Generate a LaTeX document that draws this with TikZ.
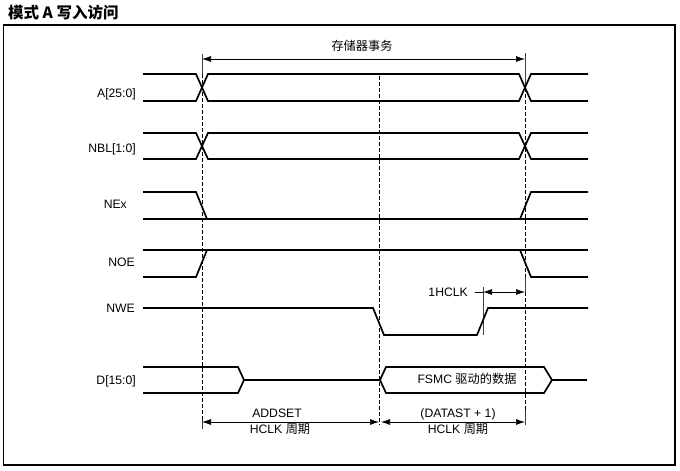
\documentclass[tikz,border=0pt]{standalone}
\usepackage{fontspec}
\setmainfont{Liberation Sans}
\newfontfamily\cjk{Noto Sans CJK SC}
\usetikzlibrary{arrows.meta}
\newcommand\sigfont{\fontsize{12.2}{14}\selectfont}
\newcommand\titlefont{\fontsize{15.5}{18}\selectfont\cjk\bfseries}
\begin{document}
\begin{tikzpicture}[x=1pt,y=-1pt,
  sig/.style={line width=1.7pt, line join=miter},
  guide/.style={line width=0.7pt, dash pattern=on 3.5pt off 2.5pt},
  tick/.style={line width=0.7pt, draw=black!75},
  dim/.style={line width=0.7pt, {Latex[length=9pt,width=6pt]}-{Latex[length=9pt,width=6pt]}},
  lbl/.style={anchor=base east, font=\sigfont, inner sep=0pt},
  txt/.style={anchor=base, font=\sigfont, inner sep=0pt}]
\useasboundingbox (0,0) rectangle (680,471);
\draw[line width=1.3pt] (3.5,25) rectangle (675,465);
\node[anchor=base west, font=\titlefont, inner sep=0pt] (title) at (8,18) {模式 A 写入访问};
\node[lbl] (la) at (136,97) {A[25:0]};
\node[lbl] (lnbl) at (136,152) {NBL[1:0]};
\node[lbl] (lne) at (127,208) {NEx};
\node[lbl] (lnoe) at (135,266) {NOE};
\node[lbl] (lnwe) at (135,312) {NWE};
\node[lbl] (ld) at (136,384) {D[15:0]};
\coordinate (ts) at (202,59);
\coordinate (te) at (525,59);
\coordinate (hs) at (483,292);
\coordinate (he) at (525,292);
\coordinate (hl) at (475,292);
\coordinate (as) at (202,422);
\coordinate (am) at (379,422);
\coordinate (bm) at (381,422);
\coordinate (be) at (525,422);
\draw[guide] (202,74) -- (202,420);
\draw[guide] (379,76) -- (379,425);
\draw[guide] (525,88) -- (525,410);
\draw[tick] (202,54) -- (202,74);
\draw[tick] (202,420) -- (202,429);
\draw[tick] (525,53) -- (525,88);
\draw[tick] (525,277) -- (525,293);
\draw[tick] (525,410) -- (525,425);
\draw[tick] (483,287) -- (483,335);
\foreach \hi/\lo in {74/101, 133/159} {
  \draw[sig] (143,\hi) -- (196,\hi) -- (208,\lo) -- (519,\lo) -- (531,\hi) -- (588,\hi);
  \draw[sig] (143,\lo) -- (196,\lo) -- (208,\hi) -- (519,\hi) -- (531,\lo) -- (588,\lo);
}
\draw[sig] (143,219) -- (588,219);
\draw[sig] (143,192) -- (196,192) -- (207,219);
\draw[sig] (520,219) -- (531,192) -- (588,192);
\draw[sig] (143,250) -- (588,250);
\draw[sig] (143,277) -- (196,277) -- (207,250);
\draw[sig] (520,250) -- (531,277) -- (588,277);
\draw[sig] (143,308) -- (373,308) -- (384,335) -- (477,335) -- (488,308) -- (588,308);
\draw[sig] (143,367) -- (238,367) -- (244,380) -- (238,393) -- (143,393);
\draw[sig] (244,380) -- (380,380);
\draw[sig] (380,380) -- (386,367) -- (544,367) -- (552,380) -- (544,393) -- (386,393) -- cycle;
\draw[sig] (552,380) -- (587,380);
\node[txt] (data) at (467,383.5) {FSMC {\cjk 驱动的数据}};
\draw[dim] (ts) -- (te);
\node[txt, font=\sigfont\cjk] (trans) at (362,50.5) {存储器事务};
\draw[line width=0.7pt] (hl) -- (hs);
\draw[dim] (hs) -- (he);
\node[anchor=base east, font=\sigfont, inner sep=0pt] (hclk) at (468,296.5) {1HCLK};
\draw[dim] (as) -- (am);
\draw[dim] (bm) -- (be);
\node[txt] (addset) at (277,417) {ADDSET};
\node[txt] (addcyc) at (280,433.5) {HCLK {\cjk 周期}};
\node[txt] (datast) at (458,417) {(DATAST + 1)};
\node[txt] (datcyc) at (458,433.5) {HCLK {\cjk 周期}};
\end{tikzpicture}
\end{document}
